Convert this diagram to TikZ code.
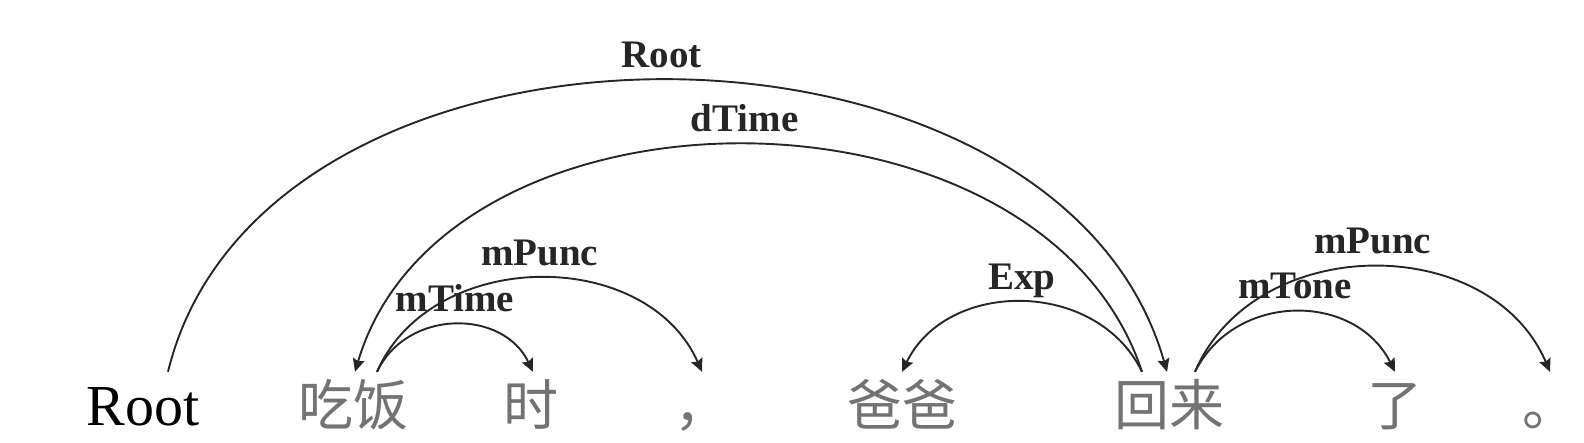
\documentclass[tikz,border=0pt]{standalone}
\usepackage{fontspec}
\setmainfont{Liberation Serif}
\newfontfamily\cjk{Noto Sans CJK SC}
\usetikzlibrary{arrows.meta}

\begin{document}
\begin{tikzpicture}[x=1pt,y=1pt,
word/.style={anchor=base,inner sep=0pt,text height=53pt,text depth=0pt,font=\fontsize{58}{60}\selectfont},
cn/.style={word,font=\cjk\fontsize{55}{60}\selectfont,text=black!55},
lbl/.style={anchor=base,yshift=13pt,inner sep=0pt,font=\bfseries\fontsize{39}{40}\selectfont},
arr/.style={-{Stealth[length=13pt,width=12pt,inset=2pt]},line width=1.9pt,black!85}]
\useasboundingbox (0,0) rectangle (1584,442);
\node[word](root) at (143,17){Root};
\node[cn](chifan) at (353,17){吃饭};
\node[cn](shi) at (531,17){时};
\node[cn](douhao) at (702,17){，};
\node[cn](baba) at (902,17){爸爸};
\node[cn](huilai) at (1169,17){回来};
\node[cn](le) at (1395,17){了};
\node[cn](juhao) at (1550,17){。};
\draw[arr]([xshift=25pt]root.north) .. controls +(95,390) and +(-110,387) .. ([xshift=-2pt]huilai.north) node[lbl,pos=.5]{Root};
\draw[arr]([xshift=-27pt]huilai.north) .. controls +(-100,303) and +(90,303) .. ([xshift=2pt]chifan.north) node[lbl,pos=.5]{dTime};
\draw[arr]([xshift=24pt]chifan.north) .. controls +(30,63) and +(-30,63) .. ([xshift=2pt]shi.north) node[lbl,pos=.5]{mTime};
\draw[arr]([xshift=24pt]chifan.north) .. controls +(55,125) and +(-55,125) .. (douhao.north) node[lbl,pos=.5]{mPunc};
\draw[arr]([xshift=-27pt]huilai.north) .. controls +(-45,93) and +(45,93) .. (baba.north) node[lbl,pos=.5]{Exp};
\draw[arr]([xshift=26pt]huilai.north) .. controls +(40,80) and +(-40,80) .. (le.north) node[lbl,pos=.5]{mTone};
\draw[arr]([xshift=26pt]huilai.north) .. controls +(60,140) and +(-60,140) .. (juhao.north) node[lbl,pos=.5]{mPunc};
\end{tikzpicture}
\end{document}
